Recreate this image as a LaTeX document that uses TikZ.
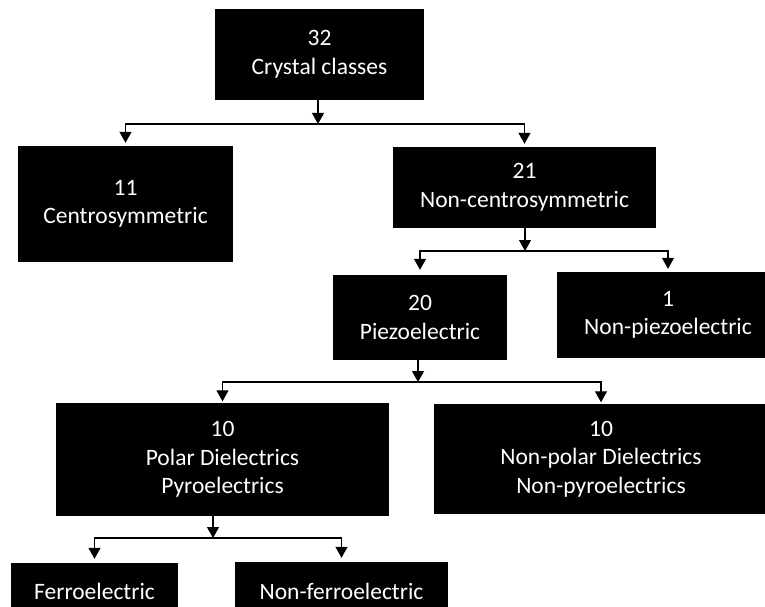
\documentclass[tikz,border=0pt]{standalone}
\usepackage{fontspec}
\setmainfont{Carlito}
\usetikzlibrary{arrows.meta}
\begin{document}
\begin{tikzpicture}[x=1pt,y=-1pt,
  box/.style={fill=black,text=white,align=center,inner sep=0pt,
    font=\fontsize{23.5}{28.5}\selectfont},
  arr/.style={line width=1.2pt,-{Triangle[width=12pt,length=11pt]}}]
\useasboundingbox (0,0) rectangle (765,607);
\clip (0,0) rectangle (765,607);

% class boxes
\node[box,minimum width=209pt,minimum height=91pt]  (top)    at (319.5,54.5) {32\\Crystal classes};
\node[box,minimum width=215pt,minimum height=116pt] (cen)    at (125.5,204)  {11\\Centrosymmetric};
\node[box,minimum width=263pt,minimum height=81pt]  (ncen)   at (524.5,187.5) {21\\Non-centrosymmetric};
\node[box,minimum width=174pt,minimum height=85pt]  (piezo)  at (420,317.5)  {20\\Piezoelectric};
\node[box,minimum width=222pt,minimum height=86pt]  (npiezo) at (668,315)    {1\\Non-piezoelectric};
\node[box,minimum width=333pt,minimum height=113pt] (polar)  at (222.5,459.5) {10\\Polar Dielectrics\\Pyroelectrics};
\node[box,minimum width=334pt,minimum height=110pt] (npolar) at (601,459)    {10\\Non-polar Dielectrics\\Non-pyroelectrics};
\node[box,minimum width=167pt,minimum height=56pt]  (ferro)  at (94.5,591)   {Ferroelectric};
\node[box,minimum width=213pt,minimum height=58pt]  (nferro) at (341.5,591)  {Non-ferroelectric};

% branching buses
\coordinate (bus1) at (318,124);
\coordinate (bus2) at (525,251);
\coordinate (bus3) at (418,382);
\coordinate (bus4) at (213,538);

\draw[arr] (top.south -| bus1) -- (bus1);
\draw[arr,shorten >=3pt] (bus1) -| (cen.north);
\draw[arr,shorten >=3pt] (bus1) -| (ncen.north);

\draw[arr] (ncen.south -| bus2) -- (bus2);
\draw[arr,shorten >=5pt] (bus2) -| (piezo.north);
\draw[arr,shorten >=3pt] (bus2) -| (npiezo.north);

\draw[arr] (piezo.south -| bus3) -- (bus3);
\draw[arr,shorten >=1.5pt] (bus3) -| (polar.north);
\draw[arr,shorten >=1.5pt] (bus3) -| (npolar.north);

\draw[arr] (polar.south -| bus4) -- (bus4);
\draw[arr,shorten >=4pt] (bus4) -| (ferro.north);
\draw[arr,shorten >=4pt] (bus4) -| (nferro.north);
\end{tikzpicture}
\end{document}
